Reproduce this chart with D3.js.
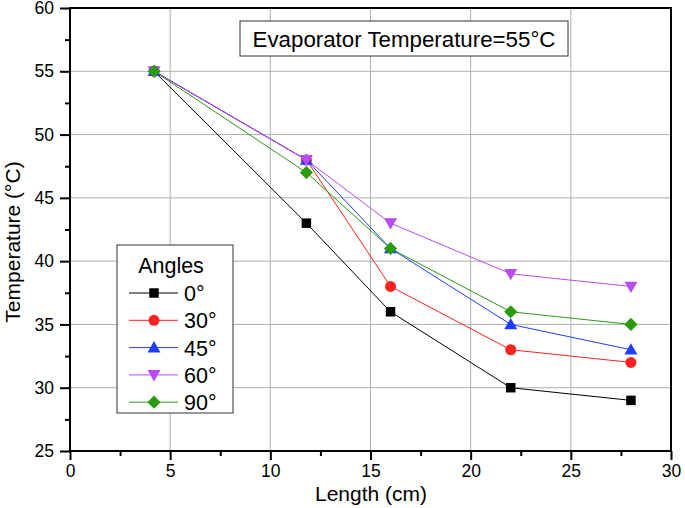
<!DOCTYPE html>
<html><head><meta charset="utf-8">
<script src="https://cdn.jsdelivr.net/npm/d3@7/dist/d3.min.js"></script>
<style>body{margin:0;background:#fff}svg{display:block;font-family:"Liberation Sans",Arial,sans-serif}</style>
</head><body>
<script>
const lengths = [4.2, 11.8, 16, 22, 28];
const seriesNames = ["0°", "30°", "45°", "60°", "90°"];
const temp0 = [55, 43, 36, 30, 29];
const temp30 = [55, 48, 38, 33, 32];
const temp45 = [55, 48, 41, 35, 33];
const temp60 = [55, 48, 43, 39, 38];
const temp90 = [55, 47, 41, 36, 35];
const xTicks = [0, 5, 10, 15, 20, 25, 30];
const yTicks = [25, 30, 35, 40, 45, 50, 55, 60];
const colors = ["#000000", "#ff2020", "#1f3dff", "#b84cf2", "#2a9a0e"];
const symbols = ["square", "circle", "up", "down", "diamond"];
const allSeries = [temp0, temp30, temp45, temp60, temp90];

const W = 685, H = 508;
const m = {l: 70, r: 14, t: 8, b: 57};
const svg = d3.select("body").append("svg").attr("width", W).attr("height", H);
const x = d3.scaleLinear().domain([0, 30]).range([m.l, W - m.r]);
const y = d3.scaleLinear().domain([25, 60]).range([H - m.b, m.t]);

// grid
svg.append("g").selectAll("line").data(xTicks.slice(1, -1)).join("line")
  .attr("x1", d => x(d)).attr("x2", d => x(d)).attr("y1", y(25)).attr("y2", y(60))
  .attr("stroke", "#a9b2b2").attr("stroke-width", 1);
svg.append("g").selectAll("line").data(yTicks.slice(1, -1)).join("line")
  .attr("y1", d => y(d)).attr("y2", d => y(d)).attr("x1", x(0)).attr("x2", x(30))
  .attr("stroke", "#a9b2b2").attr("stroke-width", 1);

function markerPath(i) {
  switch (symbols[i]) {
    case "square": return d3.symbol(d3.symbolSquare).size(90)();
    case "circle": return d3.symbol(d3.symbolCircle).size(95)();
    case "up": return "M0,-6.5L6.5,4.8L-6.5,4.8Z";
    case "down": return "M0,6.5L6.5,-4.8L-6.5,-4.8Z";
    case "diamond": return "M0,-6.6L6.6,0L0,6.6L-6.6,0Z";
  }
}

// axes
const xAxis = svg.append("g").attr("transform", `translate(0,${y(25)})`)
  .call(d3.axisBottom(x).tickValues(xTicks).tickSize(9).tickPadding(5).tickFormat(d3.format("d")));
const xMinor = svg.append("g").attr("transform", `translate(0,${y(25)})`)
  .call(d3.axisBottom(x).tickValues(d3.range(2.5, 30, 5)).tickSize(5).tickFormat(""));
const yAxis = svg.append("g").attr("transform", `translate(${x(0)},0)`)
  .call(d3.axisLeft(y).tickValues(yTicks).tickSize(10).tickPadding(6).tickFormat(d3.format("d")));
const yMinor = svg.append("g").attr("transform", `translate(${x(0)},0)`)
  .call(d3.axisLeft(y).tickValues(d3.range(27.5, 60, 5)).tickSize(5).tickFormat(""));
[xAxis, xMinor, yAxis, yMinor].forEach(g => {
  g.select(".domain").remove();
  g.selectAll("line").attr("stroke", "#000").attr("stroke-width", 2);
  g.selectAll("text").attr("font-size", 17.5).attr("fill", "#000").attr("font-family", "Liberation Sans, Arial, sans-serif");
});
// frame
svg.append("rect").attr("x", x(0)).attr("y", y(60)).attr("width", x(30) - x(0)).attr("height", y(25) - y(60))
  .attr("fill", "none").attr("stroke", "#000").attr("stroke-width", 2);

// series
allSeries.forEach((vals, i) => {
  const pts = lengths.map((l, j) => [l, vals[j]]);
  svg.append("path").datum(pts)
    .attr("d", d3.line().x(d => x(d[0])).y(d => y(d[1])))
    .attr("fill", "none").attr("stroke", colors[i]).attr("stroke-width", 1);
});
allSeries.forEach((vals, i) => {
  svg.append("g").selectAll("path").data(lengths.map((l, j) => [l, vals[j]])).join("path")
    .attr("d", markerPath(i))
    .attr("transform", d => `translate(${x(d[0])},${y(d[1])})`)
    .attr("fill", colors[i]);
});

// axis titles
svg.append("text").attr("x", 371).attr("y", 501).attr("text-anchor", "middle")
  .attr("font-size", 21).text("Length (cm)");
svg.append("text").attr("transform", `translate(20,${242}) rotate(-90)`)
  .attr("text-anchor", "middle").attr("font-size", 21).text("Temperature (°C)");

// annotation box
svg.append("rect").attr("x", 240).attr("y", 21).attr("width", 328).attr("height", 35)
  .attr("fill", "#fff").attr("stroke", "#333").attr("stroke-width", 1);
svg.append("text").attr("x", 404).attr("y", 47).attr("text-anchor", "middle")
  .attr("font-size", 22.3).text("Evaporator Temperature=55°C");

// legend
const lg = svg.append("g");
lg.append("rect").attr("x", 117).attr("y", 245).attr("width", 116).attr("height", 168)
  .attr("fill", "#fff").attr("stroke", "#333").attr("stroke-width", 1);
lg.append("text").attr("x", 171).attr("y", 273).attr("text-anchor", "middle").attr("font-size", 21.5).text("Angles");
seriesNames.forEach((name, i) => {
  const cy = 293 + i * 27.3;
  lg.append("line").attr("x1", 129).attr("x2", 178).attr("y1", cy).attr("y2", cy)
    .attr("stroke", colors[i]).attr("stroke-width", 1);
  lg.append("path").attr("d", markerPath(i)).attr("transform", `translate(154,${cy})`).attr("fill", colors[i]);
  lg.append("text").attr("x", 184).attr("y", cy + 8).attr("font-size", 21.5).text(name);
});
</script>
</body></html>
